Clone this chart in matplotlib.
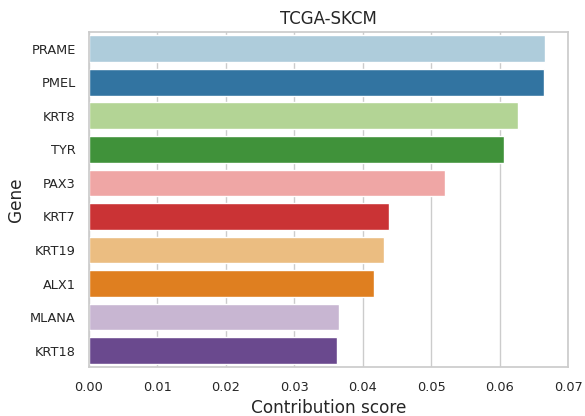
import matplotlib
matplotlib.use("Agg")
import matplotlib.pyplot as plt
import seaborn as sns
import pandas as pd

genes = ["PRAME", "PMEL", "KRT8", "TYR", "PAX3", "KRT7", "KRT19", "ALX1", "MLANA", "KRT18"]
scores = [0.0666, 0.0665, 0.0627, 0.0606, 0.0520, 0.0438, 0.0431, 0.0416, 0.0366, 0.0362]

sns.set_theme(style="whitegrid")
df = pd.DataFrame({"Gene": genes, "Contribution score": scores})

fig, ax = plt.subplots(figsize=(5.85, 4.16), dpi=100)
sns.barplot(data=df, x="Contribution score", y="Gene", hue="Gene",
            palette="Paired", legend=False, ax=ax)
ax.set_xlim(0, 0.07)
ax.set_title("TCGA-SKCM", fontsize=12)
ax.set_xlabel("Contribution score", fontsize=12.2)
ax.set_ylabel("Gene", fontsize=12.2)
ax.tick_params(labelsize=9.3)
fig.subplots_adjust(left=0.152, right=0.971, top=0.923, bottom=0.117)
plt.savefig("out.png")
